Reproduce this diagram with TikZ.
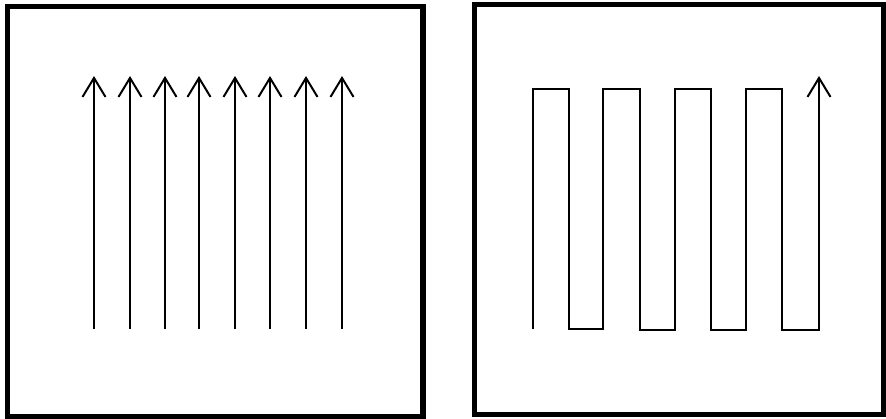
\documentclass[tikz,border=0pt]{standalone}
\usetikzlibrary{arrows.meta}
\begin{document}
\begin{tikzpicture}[x=1pt, y=-1pt, line join=miter]
    \useasboundingbox (0,0) rectangle (886,418);
    % the two frames
    \draw[line width=5.5pt] (7.5,6.5) rectangle (423,417);
    \draw[line width=5.5pt] (474.5,4.5) rectangle (884,414.5);
    % parallel passes
    \foreach \x in {94,130,165,199,235,270,306,342}
        \draw[line width=2pt, -{Straight Barb[length=19pt, width=23pt, line width=2pt]}] (\x,329) -- (\x,76);
    % one serpentine pass
    \draw[line width=2pt, -{Straight Barb[length=19pt, width=23pt, line width=2pt]}]
        (533,329) -- (533,89) -- (569,89) -- (569,329) -- (603,329) -- (603,89)
        -- (640,89) -- (640,330) -- (675,330) -- (675,89) -- (711,89) -- (711,330)
        -- (746,330) -- (746,89) -- (782,89) -- (782,330) -- (819,330) -- (819,76);
\end{tikzpicture}
\end{document}
